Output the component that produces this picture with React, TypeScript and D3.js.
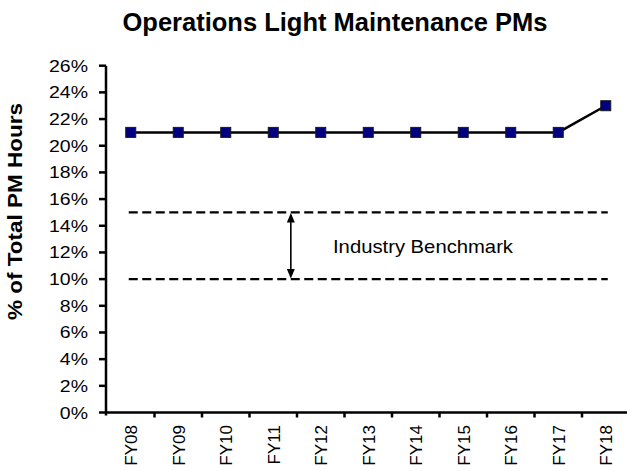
import React from "react";
import * as d3 from "d3";

const categories = ["FY08", "FY09", "FY10", "FY11", "FY12", "FY13", "FY14", "FY15", "FY16", "FY17", "FY18"];
const values = [0.21, 0.21, 0.21, 0.21, 0.21, 0.21, 0.21, 0.21, 0.21, 0.21, 0.23];
const yTicks = [0, 0.02, 0.04, 0.06, 0.08, 0.1, 0.12, 0.14, 0.16, 0.18, 0.2, 0.22, 0.24, 0.26];
const benchmarkHigh = 0.15;
const benchmarkLow = 0.1;
const benchmarkLabel = "Industry Benchmark";
const title = "Operations Light Maintenance PMs";
const yTitle = "% of Total PM Hours";

const W = 627;
const H = 471;
const FONT = "'Liberation Sans', Arial, sans-serif";

function tickWidth(label: string, size: number) {
  let w = 0;
  for (const ch of label) w += ch === "%" ? 0.889 : 0.556;
  return w * size * 1.18;
}

export default function App() {
  const x = d3.scaleBand<string>().domain(categories).range([107, 107 + 47.5 * categories.length]).padding(0);
  const y = d3.scaleLinear().domain([0, 0.26]).range([412.5, 65.7]);
  const cx = (c: string) => (x(c) as number) + x.bandwidth() / 2;
  const fmt = d3.format(".0%");

  const line = d3
    .line<number>()
    .x((_, i) => cx(categories[i]))
    .y((d) => y(d));

  const xStart = cx(categories[0]) - 2;
  const xEnd = cx(categories[categories.length - 1]) + 2;
  const arrowX = cx("FY11") + x.bandwidth() * 0.37;
  const yHi = y(benchmarkHigh);
  const yLo = y(benchmarkLow);
  const axisX = 106;
  const axisY = y(0);

  return (
    <svg width={W} height={H} style={{ position: "absolute", left: 0, top: 0, background: "#fff" }} fontFamily={FONT}>
      <rect width={W} height={H} fill="#fff" />
      <text x={335} y={31} textAnchor="middle" fontWeight="bold" fontSize={25.5} fill="#000">
        {title}
      </text>
      <text
        transform={`translate(22,211.5) rotate(-90)`}
        textAnchor="middle"
        fontWeight="bold"
        fontSize={19.5}
        textLength={217}
        lengthAdjust="spacingAndGlyphs"
        fill="#000"
      >
        {yTitle}
      </text>

      {/* y axis */}
      <line x1={axisX} x2={axisX} y1={y(0.26)} y2={axisY + 3} stroke="#000" strokeWidth={2.5} />
      {yTicks.map((t) => (
        <g key={t}>
          <line x1={axisX - 7} x2={axisX} y1={y(t)} y2={y(t)} stroke="#000" strokeWidth={2.5} />
          <text
            x={88}
            y={y(t) + 6}
            textAnchor="end"
            fontSize={16.5}
            textLength={tickWidth(fmt(t), 16.5)}
            lengthAdjust="spacingAndGlyphs"
            fill="#000"
          >
            {fmt(t)}
          </text>
        </g>
      ))}

      {/* x axis */}
      <line x1={axisX} x2={W} y1={axisY} y2={axisY} stroke="#000" strokeWidth={2.5} />
      {categories.map((c, i) =>
        i === 0 ? null : (
          <line key={c} x1={x(c) as number} x2={x(c) as number} y1={axisY} y2={axisY + 5} stroke="#000" strokeWidth={2.5} />
        )
      )}
      {categories.map((c) => (
        <text
          key={c}
          transform={`translate(${cx(c) + 6.5},425) rotate(-90)`}
          textAnchor="end"
          fontSize={17}
          fill="#000"
        >
          {c}
        </text>
      ))}

      {/* benchmark */}
      <line x1={xStart} x2={xEnd} y1={yHi} y2={yHi} stroke="#000" strokeWidth={2.2} strokeDasharray="9,4.5" />
      <line x1={xStart} x2={xEnd} y1={yLo} y2={yLo} stroke="#000" strokeWidth={2.2} strokeDasharray="9,4.5" />
      <line x1={arrowX} x2={arrowX} y1={yHi + 8} y2={yLo - 8} stroke="#000" strokeWidth={1.6} />
      <path d={`M${arrowX},${yHi + 0.5} L${arrowX - 4},${yHi + 10} L${arrowX + 4},${yHi + 10} Z`} fill="#000" />
      <path d={`M${arrowX},${yLo - 0.5} L${arrowX - 4},${yLo - 10} L${arrowX + 4},${yLo - 10} Z`} fill="#000" />
      <text x={333} y={253} fontSize={19} textLength={180} lengthAdjust="spacingAndGlyphs" fill="#000">
        {benchmarkLabel}
      </text>

      {/* series */}
      <path d={line(values) as string} fill="none" stroke="#000" strokeWidth={2.5} />
      {values.map((v, i) => (
        <rect
          key={categories[i]}
          x={cx(categories[i]) - 5}
          y={y(v) - 5}
          width={10}
          height={10}
          fill="#000080"
          stroke="#1a1a1a"
          strokeWidth={1}
        />
      ))}
    </svg>
  );
}
